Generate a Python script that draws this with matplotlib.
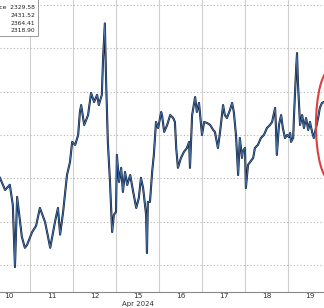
import matplotlib
matplotlib.use("Agg")
import matplotlib.pyplot as plt
from matplotlib.patches import Ellipse
import numpy as np

# session position (0 = Apr 10, 1 = Apr 11, ... 7 = Apr 19) and gold price
t = [-0.20, -0.08, 0.03, 0.10, 0.15, 0.20, 0.27, 0.31, 0.38, 0.43, 0.55, 0.64,
     0.73, 0.85, 0.97, 1.08, 1.15, 1.20, 1.27, 1.36, 1.43, 1.48, 1.55, 1.62,
     1.66, 1.69, 1.76, 1.85, 1.92, 1.99, 2.06, 2.10, 2.17, 2.20, 2.24, 2.27,
     2.31, 2.36, 2.41, 2.45, 2.50, 2.52, 2.57, 2.62, 2.66, 2.71, 2.76, 2.83,
     2.90, 2.97, 3.03, 3.08, 3.13, 3.20, 3.22, 3.24, 3.29, 3.34, 3.38, 3.43,
     3.48, 3.55, 3.57, 3.62, 3.69, 3.76, 3.83, 3.87, 3.90, 3.94, 4.01, 4.08,
     4.15, 4.20, 4.22, 4.27, 4.34, 4.38, 4.43, 4.48, 4.50, 4.55, 4.62, 4.69,
     4.76, 4.80, 4.87, 4.92, 4.99, 5.03, 5.08, 5.15, 5.20, 5.24, 5.29, 5.34,
     5.38, 5.43, 5.45, 5.50, 5.52, 5.57, 5.62, 5.69, 5.73, 5.80, 5.87, 5.94,
     6.01, 6.08, 6.13, 6.20, 6.22, 6.24, 6.29, 6.34, 6.38, 6.43, 6.48, 6.52,
     6.55, 6.57, 6.62, 6.64, 6.69, 6.71, 6.73, 6.76, 6.78, 6.83, 6.87, 6.92,
     6.97, 7.01, 7.06, 7.10, 7.15, 7.20, 7.24, 7.29, 7.34]
price = [2360.2, 2354.6, 2357.0, 2347.7, 2319.0, 2351.4, 2339.8, 2333.0, 2327.9, 2329.2, 2335.2, 2338.0,
         2346.3, 2339.8, 2327.9, 2339.8, 2346.3, 2334.0, 2344.5, 2361.5, 2367.5, 2376.8, 2375.4, 2380.0,
         2390.6, 2393.8, 2384.6, 2389.2, 2399.4, 2395.2, 2398.5, 2393.8, 2398.5, 2415.5, 2431.5, 2404.5,
         2376.8, 2358.3, 2335.2, 2343.1, 2344.5, 2370.8, 2358.3, 2364.8, 2353.7, 2362.9, 2356.9, 2361.5,
         2353.7, 2346.3, 2350.9, 2360.2, 2355.5, 2343.1, 2325.5, 2349.1, 2349.1, 2362.9, 2370.8, 2386.0,
         2383.2, 2390.6, 2389.2, 2381.4, 2384.6, 2389.2, 2387.8, 2386.0, 2374.0, 2364.8, 2369.4, 2372.2,
         2374.0, 2376.8, 2364.8, 2389.2, 2397.5, 2390.6, 2394.8, 2384.6, 2380.0, 2386.0, 2385.5, 2384.6,
         2382.3, 2381.4, 2374.0, 2381.4, 2393.8, 2389.2, 2387.8, 2391.5, 2394.8, 2390.6, 2380.0, 2361.5,
         2378.6, 2369.4, 2372.6, 2374.0, 2355.5, 2366.2, 2367.5, 2369.4, 2374.0, 2375.4, 2378.6, 2380.0,
         2383.2, 2384.6, 2386.0, 2392.5, 2383.2, 2370.8, 2384.6, 2389.2, 2383.2, 2378.6, 2380.0, 2379.1,
         2380.9, 2376.8, 2378.6, 2389.2, 2410.9, 2417.8, 2404.5, 2392.5, 2384.6, 2389.2, 2383.2, 2387.8,
         2382.3, 2386.0, 2381.4, 2378.6, 2383.2, 2387.8, 2392.5, 2394.8, 2395.2]

day_labels = ["10", "11", "12", "15", "16", "17", "18", "19"]
legend_lines = ["rice  2329.58", "2431.52", "2364.41", "2318.90"]

fig = plt.figure(figsize=(3.24, 3.08), dpi=100)
ax = fig.add_axes([0, 16 / 308, 1, 292 / 308])

ax.plot(t, price, color="#13213d", lw=1.5, zorder=3)
ax.plot(t, price, color="#4f86c6", lw=0.5, zorder=4)

ax.set_xlim(-0.198, 7.337)
ax.set_ylim(2307.5, 2442.3)

for x in np.arange(0.5, 7, 1.0):
    ax.axvline(x, color="#cfcfcf", lw=0.8, zorder=1)
for y in range(2320, 2441, 20):
    ax.axhline(y, color="#b5b5b5", lw=0.8, ls=(0, (1, 2)), zorder=1)

ax.set_xticks(range(len(day_labels)))
ax.set_xticklabels(day_labels, fontsize=5.3, color="#333333")
ax.tick_params(axis="x", length=0, pad=0.5)
ax.set_yticks([])
for s in ["top", "left", "right"]:
    ax.spines[s].set_visible(False)
ax.spines["bottom"].set_color("#888888")
ax.spines["bottom"].set_linewidth(0.8)

ax.text(3, -0.0405, "Apr 2024", transform=ax.get_xaxis_transform(),
        ha="center", va="center", fontsize=5.0, color="#333333")

# legend box in the top left corner
ax.add_patch(plt.Rectangle((-0.01, 0.878), 0.128, 0.13, transform=ax.transAxes,
                           facecolor="white", edgecolor="#999999", lw=0.7,
                           zorder=6, clip_on=False))
for i, s in enumerate(legend_lines):
    ax.text(0.108, 0.975 - i * 0.027, s, transform=ax.transAxes, ha="right",
            va="center", fontsize=4.3, color="#222222", zorder=7)

ax.add_patch(Ellipse((7.5, 2384.6), 0.70, 51.7, fill=False, edgecolor="#d9413f",
                     lw=1.5, zorder=5))

fig.savefig("out.png", dpi=100)
